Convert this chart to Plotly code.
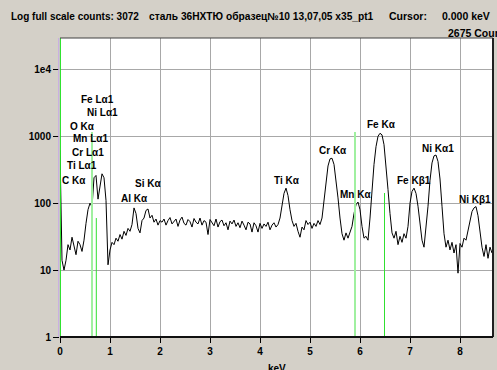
import math
import plotly.graph_objects as go

# ---- data ----
channel_kev = 0.04
counts = [
    620, 14, 10, 14, 24, 20, 31, 22, 17, 27,
    24, 19, 28, 50, 80, 100, 88, 240, 260, 115,
    190, 275, 240, 110, 12, 20, 26, 24, 30, 27,
    34, 29, 38, 33, 42, 38, 48, 85, 70, 42,
    36, 55, 60, 78, 82, 60, 66, 52, 58, 47,
    55,
    52, 58, 47, 55, 61, 49, 54, 58, 45, 56,
    62, 50, 47, 57, 53, 44, 59, 52, 49, 60,
    47, 55, 52, 34, 57, 50, 46, 58, 44, 53,
    56, 46, 51, 40, 54, 49, 56, 45, 51, 43,
    54, 47, 40, 52, 49, 37, 51, 46, 37, 50,
    42, 49, 45, 52, 40, 47, 51, 44, 48,
    60, 90, 140, 168, 130, 80, 55, 45, 50, 38,
    31, 44, 40, 55, 48, 52, 42, 50, 45, 55,
    48, 60, 110, 220, 360, 460, 470, 380, 230, 120,
    60, 35, 28, 36, 30, 38, 45, 70, 95, 104,
    80, 45, 30, 32, 28, 60, 160, 380, 700, 1000,
    1110, 1050, 750, 380, 160, 70, 36, 30, 38, 24,
    32, 26, 35, 30, 45, 100, 150, 168, 140, 90,
    50, 28, 22, 40, 90, 220, 400, 510, 525, 420,
    230, 90, 35, 22, 28, 20, 26, 18, 24, 9,
    25, 22, 30, 28, 40, 55, 75, 85, 89, 65,
    35, 22, 16, 24, 15, 22, 18,
]
kev = [round(i * channel_kev, 2) for i in range(len(counts))]

label_text = ["Fe Lα1", "Ni Lα1", "O Kα", "Mn Lα1", "Cr Lα1", "Ti Lα1", "C Kα",
              "Si Kα", "Al Kα", "Ti Kα", "Cr Kα", "Mn Kα", "Fe Kα", "Fe Kβ1",
              "Ni Kα1", "Ni Kβ1"]
label_kev = [0.74, 0.856, 0.446, 0.616, 0.566, 0.446, 0.274,
             1.76, 1.484, 4.54, 5.45, 5.90, 6.42, 7.074, 7.55, 8.306]
label_counts = [3610, 2250, 1425, 927, 582, 363, 222,
                194, 116, 222, 609, 136, 1476, 217, 662, 114]

# KLM marker lines (Mn)
marker_major_kev = [0.64, 5.90]
marker_major_counts = [1160, 1160]
marker_minor_kev = [0.726, 6.49]
marker_minor_counts = [60, 142]

x_ticks = [0, 1, 2, 3, 4, 5, 6, 7, 8]
y_ticks = [1, 10, 100, 1000, 10000]
y_tick_labels = ["1", "10", "100", "1000", "1e4"]

header_left = "Log full scale counts: 3072"
header_title = "сталь 36НХТЮ образец№10 13,07,05 x35_pt1"
cursor_label = "Cursor:"
cursor_kev = "0.000 keV"
cursor_counts = "2675 Counts"

# ---- layout helpers ----
W, H = 497, 370
L, R, T, B = 60, 4, 38, 33
PW, PH = W - L - R, H - T - B


def px(xp):
    return (xp - L) / PW


def py(yp):
    return (H - B - yp) / PH


FONT = "Liberation Sans, Arial, sans-serif"

fig = go.Figure()
fig.add_trace(go.Scatter(x=kev, y=counts, mode="lines",
                         line=dict(color="#000000", width=1),
                         hoverinfo="skip"))

shapes = []
for xv, cv in zip(marker_major_kev, marker_major_counts):
    shapes.append(dict(type="line", xref="x", yref="y", x0=xv, x1=xv,
                       y0=1, y1=cv,
                       line=dict(color="#a0f0a0", width=2), layer="above"))
for xv, cv in zip(marker_minor_kev, marker_minor_counts):
    shapes.append(dict(type="line", xref="x", yref="y", x0=xv, x1=xv,
                       y0=1, y1=cv,
                       line=dict(color="#30e030", width=1), layer="above"))
# cursor + left marker
shapes.append(dict(type="line", xref="paper", yref="paper", x0=-0.003, x1=-0.003,
                   y0=0, y1=1, line=dict(color="#c8a8e8", width=1)))
shapes.append(dict(type="line", xref="paper", yref="paper", x0=0.001, x1=0.001,
                   y0=0, y1=1, line=dict(color="#20e020", width=1)))
# frame
shapes.append(dict(type="line", xref="paper", yref="paper", x0=0, x1=1, y0=1, y1=1,
                   line=dict(color="#404040", width=1)))
shapes.append(dict(type="line", xref="paper", yref="paper", x0=1, x1=1, y0=0, y1=1,
                   line=dict(color="#202020", width=2)))
shapes.append(dict(type="line", xref="paper", yref="paper", x0=0, x1=1, y0=0, y1=0,
                   line=dict(color="#101010", width=2)))

annotations = []
for t, xv, cv in zip(label_text, label_kev, label_counts):
    annotations.append(dict(text="<b>%s</b>" % t, x=xv, y=math.log10(cv),
                            xref="x", yref="y", showarrow=False,
                            xanchor="center", yanchor="middle",
                            font=dict(family=FONT, size=10, color="#000000")))

for txt, xp, yp, anc, fs in [(header_left, 75, 16, "center", 10),
                             (header_title, 147, 16, "left", 10.2),
                             (cursor_label, 408, 16, "center", 10.5),
                             (cursor_kev, 466, 16, "center", 10.5),
                             (cursor_counts, 446, 33, "left", 10.5)]:
    annotations.append(dict(text="<b>%s</b>" % txt, x=px(xp), y=py(yp),
                            xref="paper", yref="paper", showarrow=False,
                            xanchor=anc, yanchor="middle",
                            font=dict(family=FONT, size=fs, color="#000000")))
annotations.append(dict(text="<b>keV</b>", x=px(277), y=py(368), xref="paper",
                        yref="paper", showarrow=False, xanchor="center",
                        yanchor="middle", font=dict(family=FONT, size=10, color="#000")))

fig.update_layout(
    width=W, height=H,
    margin=dict(l=L, r=R, t=T, b=B, pad=0),
    paper_bgcolor="#d4d0c8", plot_bgcolor="#ffffff",
    showlegend=False,
    shapes=shapes, annotations=annotations,
    xaxis=dict(range=[0, (PW) / 50.0], tickvals=x_ticks,
               ticktext=["<b>%d</b>" % v for v in x_ticks],
               ticks="outside", ticklen=5, tickcolor="#000", tickwidth=1,
               showgrid=True, gridcolor="#a8a8a8", gridwidth=1,
               zeroline=False, showline=False,
               tickfont=dict(family=FONT, size=10, color="#000")),
    yaxis=dict(type="log", range=[0, PH / 66.9], tickvals=y_ticks,
               ticktext=["<b>%s</b>" % s for s in y_tick_labels],
               ticks="outside", ticklen=6, tickcolor="#000", tickwidth=1,
               showgrid=True, gridcolor="#a8a8a8", gridwidth=1,
               zeroline=False, showline=False,
               tickfont=dict(family=FONT, size=10, color="#000")),
)

fig.write_html("out.html", config={"displayModeBar": False},
               post_script="document.body.style.margin='0';")
